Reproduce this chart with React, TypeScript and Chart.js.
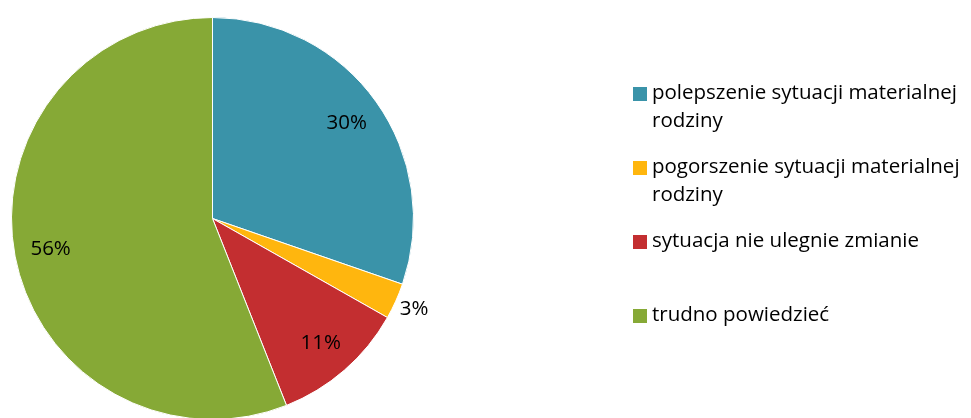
import React, { useEffect, useRef } from "react";
import { Chart, registerables } from "chart.js";

Chart.register(...registerables);

const categories = [
  "polepszenie sytuacji materialnej rodziny",
  "pogorszenie sytuacji materialnej rodziny",
  "sytuacja nie ulegnie zmianie",
  "trudno powiedzieć",
];
const values = [30.3, 2.9, 10.8, 56.0];
const colors = ["#3A93A9", "#FFB60E", "#C32E30", "#86A936"];

const FONT = "20.5px 'Open Sans', sans-serif";

const labelsPlugin = {
  id: "sliceLabels",
  afterDatasetsDraw(chart: any) {
    const ctx = chart.ctx;
    const meta = chart.getDatasetMeta(0);
    const ds = chart.data.datasets[0].data as number[];
    const total = ds.reduce((a: number, b: number) => a + b, 0);
    ctx.save();
    ctx.font = FONT;
    ctx.fillStyle = "#000";
    ctx.textAlign = "center";
    ctx.textBaseline = "middle";
    meta.data.forEach((arc: any, i: number) => {
      const { x, y, startAngle, endAngle, outerRadius } = arc.getProps(
        ["x", "y", "startAngle", "endAngle", "outerRadius"],
        true
      );
      const mid = (startAngle + endAngle) / 2;
      const pct = (ds[i] / total) * 100;
      const f = pct < 5 ? 1.1 : 0.82;
      const px = x + Math.cos(mid) * outerRadius * f;
      const py = y + Math.sin(mid) * outerRadius * f;
      ctx.fillText(Math.round(pct) + "%", px, py);
    });
    ctx.restore();
  },
};

const legendPlugin = {
  id: "customLegend",
  afterDraw(chart: any) {
    const ctx = chart.ctx;
    const labels = chart.data.labels as string[];
    const bg = chart.data.datasets[0].backgroundColor as string[];
    const x0 = 633;
    const textX = 652;
    const maxW = 318;
    ctx.save();
    ctx.font = FONT;
    ctx.textBaseline = "middle";
    ctx.textAlign = "left";
    labels.forEach((label, i) => {
      const y = 94 + i * 74;
      ctx.fillStyle = bg[i];
      ctx.fillRect(x0, y - 7, 14, 14);
      ctx.fillStyle = "#000";
      const words = label.split(" ");
      const lines: string[] = [];
      let cur = "";
      words.forEach((w) => {
        const test = cur ? cur + " " + w : w;
        if (ctx.measureText(test).width > maxW && cur) {
          lines.push(cur);
          cur = w;
        } else cur = test;
      });
      if (cur) lines.push(cur);
      lines.forEach((ln, j) => ctx.fillText(ln, textX, y - 1 + j * 28));
    });
    ctx.restore();
  },
};

export default function App() {
  const ref = useRef<HTMLCanvasElement>(null);
  useEffect(() => {
    document.body.style.margin = "0";
    const chart = new Chart(ref.current!, {
      type: "pie",
      data: {
        labels: categories,
        datasets: [
          {
            data: values,
            backgroundColor: colors,
            borderColor: "#ffffff",
            borderWidth: 1,
          },
        ],
      },
      options: {
        animation: false,
        responsive: false,
        maintainAspectRatio: false,
        layout: { padding: { top: 17, left: 11, right: 557, bottom: 20 } },
        plugins: {
          legend: { display: false },
          tooltip: { enabled: false },
        },
      },
      plugins: [labelsPlugin, legendPlugin],
    });
    return () => chart.destroy();
  }, []);
  return (
    <div style={{ position: "absolute", left: 0, top: 0, width: 971, height: 418, overflow: "hidden", background: "#fff" }}>
      <canvas ref={ref} width={971} height={440} style={{ width: 971, height: 440 }} />
    </div>
  );
}
